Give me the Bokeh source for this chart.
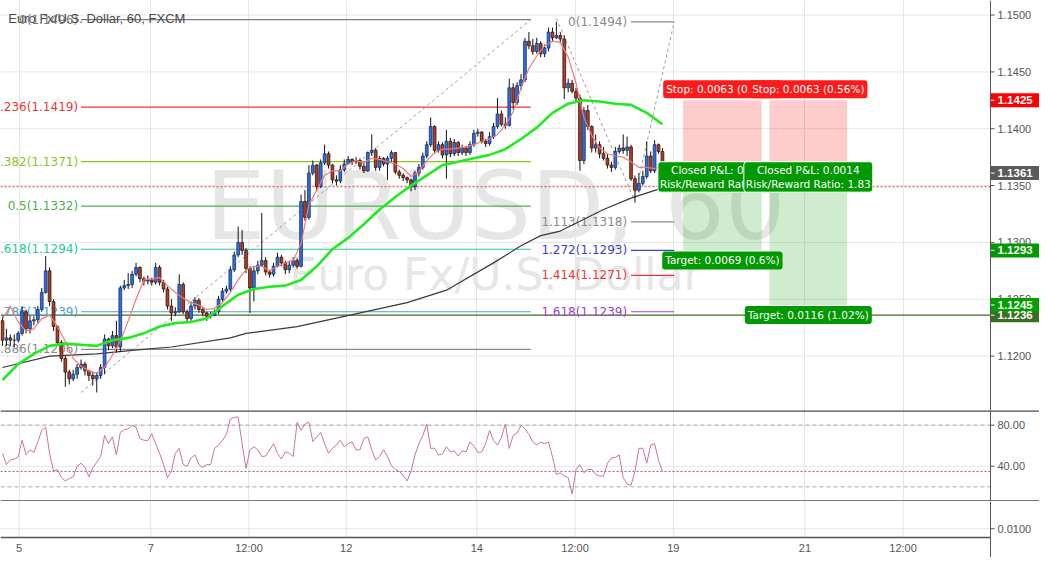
import numpy as np
from bokeh.plotting import figure
from bokeh.models import Range1d, FixedTicker, Label, Span, ColumnDataSource
from bokeh.layouts import column
from bokeh.embed import file_html
from bokeh.resources import INLINE
from bokeh.core.properties import value

# ---------------- data (hourly bars) ----------------
first_open = 1.1231
close = [1.1214, 1.1216, 1.1214, 1.1214, 1.1220, 1.1239, 1.1224, 1.1231, 1.1232, 1.1241,
         1.1256, 1.1275, 1.1248, 1.1226, 1.1212, 1.1198, 1.1186, 1.1180, 1.1184, 1.1190,
         1.1193, 1.1187, 1.1183, 1.1180, 1.1183, 1.1190, 1.1215, 1.1209, 1.1218, 1.1208,
         1.1260, 1.1262, 1.1263, 1.1272, 1.1278, 1.1268, 1.1266, 1.1267, 1.1265, 1.1278,
         1.1265, 1.1259, 1.1244, 1.1238, 1.1239, 1.1263, 1.1239, 1.1233, 1.1244, 1.1249,
         1.1241, 1.1238, 1.1235, 1.1236, 1.1239, 1.1250, 1.1257, 1.1259, 1.1276, 1.1289,
         1.1300, 1.1293, 1.1277, 1.1260, 1.1275, 1.1280, 1.1284, 1.1274, 1.1272, 1.1279,
         1.1287, 1.1282, 1.1276, 1.1280, 1.1284, 1.1279, 1.1336, 1.1322, 1.1361, 1.1368,
         1.1349, 1.1370, 1.1378, 1.1368, 1.1355, 1.1354, 1.1364, 1.1369, 1.1373, 1.1371,
         1.1372, 1.1367, 1.1363, 1.1379, 1.1381, 1.1366, 1.1374, 1.1369, 1.1374, 1.1379,
         1.1362, 1.1359, 1.1357, 1.1355, 1.1349, 1.1361, 1.1366, 1.1376, 1.1386, 1.1402,
         1.1381, 1.1386, 1.1377, 1.1389, 1.1378, 1.1388, 1.1379, 1.1383, 1.1379, 1.1386,
         1.1396, 1.1397, 1.1389, 1.1387, 1.1393, 1.1402, 1.1413, 1.1404, 1.1403, 1.1436,
         1.1423, 1.1438, 1.1443, 1.1477, 1.1473, 1.1468, 1.1475, 1.1466, 1.1471, 1.1485,
         1.1480, 1.1482, 1.1479, 1.1436, 1.1440, 1.1433, 1.1427, 1.1372, 1.1416, 1.1402,
         1.1383, 1.1386, 1.1378, 1.1374, 1.1368, 1.1366, 1.1380, 1.1383, 1.1381, 1.1384,
         1.1356, 1.1346, 1.1352, 1.1358, 1.1376, 1.1363, 1.1386, 1.1380, 1.1361]
high = [1.1235, 1.1224, 1.1219, 1.1219, 1.1222, 1.1244, 1.1241, 1.1235, 1.1235, 1.1244,
        1.1260, 1.1288, 1.1278, 1.1250, 1.1227, 1.1214, 1.1200, 1.1188, 1.1188, 1.1193,
        1.1197, 1.1195, 1.1188, 1.1186, 1.1186, 1.1193, 1.1219, 1.1216, 1.1222, 1.1231,
        1.1262, 1.1267, 1.1273, 1.1275, 1.1282, 1.1279, 1.1270, 1.1271, 1.1269, 1.1282,
        1.1280, 1.1267, 1.1261, 1.1250, 1.1243, 1.1272, 1.1265, 1.1241, 1.1248, 1.1252,
        1.1251, 1.1243, 1.1239, 1.1239, 1.1241, 1.1253, 1.1260, 1.1262, 1.1279, 1.1292,
        1.1314, 1.1311, 1.1295, 1.1279, 1.1279, 1.1284, 1.1326, 1.1287, 1.1276, 1.1282,
        1.1291, 1.1289, 1.1284, 1.1284, 1.1287, 1.1286, 1.1342, 1.1346, 1.1368, 1.1372,
        1.1369, 1.1373, 1.1386, 1.1380, 1.1369, 1.1359, 1.1368, 1.1373, 1.1376, 1.1374,
        1.1375, 1.1374, 1.1371, 1.1380, 1.1395, 1.1383, 1.1376, 1.1375, 1.1376, 1.1381,
        1.1379, 1.1364, 1.1361, 1.1358, 1.1356, 1.1363, 1.1369, 1.1379, 1.1389, 1.1410,
        1.1403, 1.1389, 1.1388, 1.1399, 1.1392, 1.1391, 1.1389, 1.1386, 1.1385, 1.1389,
        1.1399, 1.1400, 1.1398, 1.1391, 1.1397, 1.1405, 1.1427, 1.1416, 1.1410, 1.1444,
        1.1440, 1.1441, 1.1448, 1.1480, 1.1485, 1.1479, 1.1480, 1.1477, 1.1474, 1.1489,
        1.1489, 1.1494, 1.1485, 1.1482, 1.1444, 1.1443, 1.1436, 1.1430, 1.1419, 1.1421,
        1.1403, 1.1395, 1.1389, 1.1384, 1.1378, 1.1371, 1.1384, 1.1386, 1.1395, 1.1393,
        1.1386, 1.1359, 1.1361, 1.1363, 1.1389, 1.1380, 1.1390, 1.1387, 1.1383]
low = [1.1209, 1.1209, 1.1209, 1.1208, 1.1212, 1.1218, 1.1220, 1.1220, 1.1227, 1.1229,
       1.1239, 1.1255, 1.1244, 1.1222, 1.1209, 1.1195, 1.1173, 1.1175, 1.1178, 1.1180,
       1.1188, 1.1183, 1.1178, 1.1174, 1.1168, 1.1180, 1.1184, 1.1205, 1.1207, 1.1203,
       1.1204, 1.1258, 1.1259, 1.1260, 1.1270, 1.1265, 1.1262, 1.1263, 1.1262, 1.1263,
       1.1262, 1.1256, 1.1241, 1.1231, 1.1235, 1.1238, 1.1237, 1.1229, 1.1231, 1.1241,
       1.1238, 1.1235, 1.1231, 1.1233, 1.1235, 1.1237, 1.1248, 1.1255, 1.1257, 1.1274,
       1.1287, 1.1289, 1.1273, 1.1238, 1.1248, 1.1272, 1.1279, 1.1271, 1.1269, 1.1270,
       1.1278, 1.1279, 1.1272, 1.1273, 1.1278, 1.1277, 1.1278, 1.1319, 1.1320, 1.1359,
       1.1345, 1.1348, 1.1368, 1.1365, 1.1352, 1.1350, 1.1352, 1.1362, 1.1369, 1.1368,
       1.1369, 1.1364, 1.1361, 1.1362, 1.1376, 1.1363, 1.1363, 1.1367, 1.1355, 1.1371,
       1.1360, 1.1356, 1.1354, 1.1352, 1.1345, 1.1346, 1.1358, 1.1364, 1.1374, 1.1384,
       1.1378, 1.1379, 1.1374, 1.1356, 1.1375, 1.1376, 1.1376, 1.1377, 1.1376, 1.1377,
       1.1384, 1.1393, 1.1387, 1.1384, 1.1385, 1.1391, 1.1400, 1.1402, 1.1400, 1.1402,
       1.1417, 1.1421, 1.1434, 1.1441, 1.1470, 1.1465, 1.1466, 1.1463, 1.1463, 1.1468,
       1.1477, 1.1479, 1.1475, 1.1426, 1.1432, 1.1431, 1.1424, 1.1363, 1.1369, 1.1399,
       1.1379, 1.1379, 1.1374, 1.1372, 1.1365, 1.1362, 1.1364, 1.1378, 1.1378, 1.1376,
       1.1354, 1.1335, 1.1344, 1.1350, 1.1356, 1.1361, 1.1361, 1.1378, 1.1352]

rsi = [52.7, 41.6, 46.3, 47, 49, 65.4, 51.1, 55.9, 53.5, 63.8,
       74.9, 78, 52.7, 35.2, 36.8, 29, 25.7, 28, 29.8, 40,
       43, 39, 29.8, 38.4, 44, 49.5, 70, 62, 68.6, 51,
       73, 75.5, 76.5, 79.7, 78, 67, 65.4, 65, 71.7, 62,
       52.7, 41.6, 29, 35, 52.7, 57.5, 41.6, 40, 48, 51,
       41.6, 39, 41.6, 41.6, 57.5, 60.6, 65.4, 71, 86, 87.6,
       88, 62, 38, 56, 59, 56, 49.5, 50, 55.9, 62,
       52.7, 47, 54, 52.7, 49.5, 83, 75, 81, 83, 64,
       68.6, 73, 62, 52.7, 57.5, 60.6, 65.4, 59, 62, 63.8,
       56, 56, 67, 68.6, 56, 46, 49.5, 56, 49.5, 40.6,
       36.8, 35, 31, 25.7, 35, 51, 62, 70, 81, 57.5,
       57.5, 51, 52, 59, 54, 55, 50, 55, 54, 63.8,
       59.6, 53.5, 54, 62, 75, 65, 60.6, 68, 81, 57.5,
       70, 72.5, 79.7, 76.5, 71, 63.8, 60.6, 63.5, 62, 63.5,
       49.5, 32, 33.7, 30.5, 29, 13, 36.8, 41.6, 33.7, 36.8,
       36.8, 32, 30.5, 30.5, 43, 48, 48.7, 51, 29, 22.5,
       21.6, 35, 57.5, 57.5, 43, 60.6, 62, 46, 35]

# moving averages (bar index, price)
ma_fast_t = list(range(0, 169, 2))
ma_fast = [1.1233, 1.1244, 1.1230, 1.1222, 1.1224, 1.1233, 1.1236, 1.1226, 1.1213, 1.1198,
           1.1191, 1.1187, 1.1185, 1.1190, 1.1201, 1.1213, 1.1231, 1.1250, 1.1267, 1.1268,
           1.1269, 1.1262, 1.1256, 1.1251, 1.1247, 1.1245, 1.1241, 1.1242, 1.1247, 1.1256,
           1.1267, 1.1276, 1.1279, 1.1279, 1.1275, 1.1279, 1.1282, 1.1284, 1.1299, 1.1333,
           1.1346, 1.1359, 1.1363, 1.1363, 1.1369, 1.1372, 1.1370, 1.1374, 1.1373, 1.1371,
           1.1369, 1.1365, 1.1358, 1.1362, 1.1372, 1.1379, 1.1382, 1.1382, 1.1383, 1.1384,
           1.1386, 1.1389, 1.1391, 1.1395, 1.1403, 1.1415, 1.1436, 1.1453, 1.1464, 1.1473,
           1.1477, 1.1476, 1.1463, 1.1440, 1.1410, 1.1394, 1.1383, 1.1378, 1.1376, 1.1375,
           1.1371, 1.1366, 1.1366, 1.1365, 1.1367]
ma_mid_t = list(range(0, 169, 4))
ma_mid = [1.1179, 1.1193, 1.1202, 1.1209, 1.1211, 1.1210, 1.1209, 1.1214, 1.1216, 1.1220,
          1.1226, 1.1229, 1.1230, 1.1233, 1.1244, 1.1254, 1.1259, 1.1261, 1.1262, 1.1267,
          1.1279, 1.1294, 1.1304, 1.1316, 1.1329, 1.1340, 1.1350, 1.1359, 1.1368, 1.1371,
          1.1374, 1.1377, 1.1382, 1.1391, 1.1401, 1.1414, 1.1422, 1.1425, 1.1424, 1.1422,
          1.1421, 1.1414, 1.1404]
ma_slow_t = [0, 12, 24, 33, 43, 58, 62, 75, 87, 103, 113, 125, 132, 137, 142, 153, 160, 168]
ma_slow = [1.1190, 1.1200, 1.1202, 1.1205, 1.1208, 1.1216, 1.1220, 1.1226, 1.1235, 1.1247,
           1.1258, 1.1282, 1.1297, 1.1306, 1.1310, 1.1329, 1.1339, 1.1348]

tick_pos = [4.25, 37.75, 62.75, 87.5, 120.75, 145.75, 170.75, 204.25, 229.25]
tick_labels = ["5", "7", "12:00", "12", "14", "12:00", "19", "21", "12:00"]
price_ticks = [1.120, 1.125, 1.130, 1.135, 1.140, 1.145, 1.150]
rsi_ticks = [40, 80]
rsi_bands = [80, 20]
bottom_ticks = [0.01]

fib_ret_ratio = ["0", "0.236", "0.382", "0.5", "0.618", "0.786", "0.886"]
fib_ret_price = [1.1496, 1.1419, 1.1371, 1.1332, 1.1294, 1.1239, 1.1206]
fib_ret_t = [20, 134.5]
fib_ret_anchor_p = [1.1168, 1.1496]

fib_ext_ratio = ["0", "1.113", "1.272", "1.414", "1.618"]
fib_ext_price = [1.1494, 1.1318, 1.1293, 1.1271, 1.1239]
fib_ext_t = [160, 171]
fib_ext_anchor_t = [141, 160.75, 171]
fib_ext_anchor_p = [1.1497, 1.1338, 1.1494]

pos_left = [173.25, 195.25]
pos_right = [193.25, 215.0]
pos_entry = [1.1362, 1.1362]
pos_stop = [1.1425, 1.1425]
pos_target = [1.1293, 1.1245]
stop_text = ["Stop: 0.0063 (0.56%)", "Stop: 0.0063 (0.56%)"]
pnl_text = ["Closed P&L: 0.0014\nRisk/Reward Ratio: 1.83", "Closed P&L: 0.0014\nRisk/Reward Ratio: 1.83"]
target_text = ["Target: 0.0069 (0.6%)", "Target: 0.0116 (1.02%)"]

entry_level = 1.1349
green_level = 1.1236

# ---------------- styling constants ----------------
PLOT_W = 1039
PANE_W = 990                       # width of the chart area left of the price scale
X0, X_AXIS = -0.5, 251.5           # chart area in bar units
PPB = PANE_W / (X_AXIS - X0)       # pixels per bar
X1 = X0 + PLOT_W / PPB             # includes the price-scale strip
GRID = "#e6e6e6"
AXC = "#555555"
UP_FILL, UP_LINE = "#2f6fde", "#14306b"
DN_FILL, DN_LINE = "#a8402c", "#3b1109"
FIB_RET_COL = ["#7d7d7d", "#e53935", "#8fc31f", "#4caf50", "#26c6a0", "#4a9fd8", "#8a8a8a"]
FIB_EXT_COL = ["#8a8a8a", "#8a8a8a", "#3f3fd0", "#e53935", "#a040c8"]

x_range = Range1d(X0, X1)


def base_fig(h, yr, xgrid=True):
    f = figure(frame_width=PLOT_W, frame_height=h, x_range=x_range, y_range=yr,
               output_backend="svg", toolbar_location=None,
               min_border_left=0, min_border_top=0, min_border_bottom=0,
               min_border_right=0, outline_line_color=None,
               background_fill_color="white", border_fill_color="white")
    f.xgrid.ticker = FixedTicker(ticks=tick_pos)
    f.xgrid.grid_line_color = GRID if xgrid else None
    f.ygrid.visible = False
    f.yaxis.visible = False
    f.xaxis.visible = False
    return f


def price_scale(f, ticks, labels):
    # horizontal grid lines stop at the price scale
    f.segment(x0=[X0] * len(ticks), x1=[X_AXIS] * len(ticks), y0=ticks, y1=ticks,
              line_color=GRID, line_width=1, level="underlay")
    f.segment(x0=[X_AXIS] * len(ticks), x1=[X_AXIS + 4 / PPB] * len(ticks), y0=ticks, y1=ticks,
              line_color=AXC, line_width=1)
    f.text(x=[X_AXIS + 7 / PPB] * len(ticks), y=ticks, text=labels, text_color=AXC,
           text_align="left", text_baseline="middle", text_font=value("Liberation Sans"),
           text_font_size="11px")
    f.add_layout(Span(location=X_AXIS, dimension="height", line_color=AXC, line_width=1))


# ---------------- main price pane ----------------
p = base_fig(410, Range1d(1.115214, 1.151282))
price_scale(p, price_ticks, [f"{t:.4f}" for t in price_ticks])

# watermark
p.add_layout(Label(x=125.5, y=1.1332, text="EURUSD, 60", text_align="center",
                   text_baseline="alphabetic", text_font="DejaVu Sans", text_font_size="95px",
                   text_color="#e6e6e6", level="underlay"))
p.add_layout(Label(x=125.5, y=1.1272, text="Euro Fx/U.S. Dollar", text_align="center",
                   text_baseline="alphabetic", text_font="DejaVu Sans", text_font_size="44px",
                   text_color="#e6e6e6", level="underlay"))

# position tool boxes
p.quad(left=pos_left, right=pos_right, bottom=pos_entry, top=pos_stop,
       fill_color="#ff0000", fill_alpha=0.2, line_color=None)
p.quad(left=pos_left, right=pos_right, bottom=pos_target, top=pos_entry,
       fill_color="#009900", fill_alpha=0.19, line_color=None)

# horizontal lines
p.segment(x0=[X0], x1=[X_AXIS], y0=[entry_level], y1=[entry_level], line_color="#e53935",
          line_dash="2 2", line_width=1)
p.segment(x0=[X0], x1=[X_AXIS], y0=[green_level], y1=[green_level], line_color="#3a6e22",
          line_width=1.2)

# fib retracement
n_r = len(fib_ret_price)
p.segment(x0=[fib_ret_t[0]] * n_r, x1=[fib_ret_t[1]] * n_r, y0=fib_ret_price, y1=fib_ret_price,
          line_color=FIB_RET_COL, line_width=1.2)
p.line(fib_ret_t, fib_ret_anchor_p, line_color="#9a9a9a", line_dash="3 3", line_width=1)
p.text(x=[fib_ret_t[0] - 0.75] * n_r, y=fib_ret_price,
       text=[f"{r}({v:.4f})" for r, v in zip(fib_ret_ratio, fib_ret_price)],
       text_color=FIB_RET_COL, text_align="right", text_baseline="middle",
       text_font=value("DejaVu Sans"), text_font_size="12px")

# fib extension
n_e = len(fib_ext_price)
p.segment(x0=[fib_ext_t[0]] * n_e, x1=[fib_ext_t[1]] * n_e, y0=fib_ext_price, y1=fib_ext_price,
          line_color=FIB_EXT_COL, line_width=1.2)
p.line(fib_ext_anchor_t, fib_ext_anchor_p, line_color="#9a9a9a", line_dash="3 3", line_width=1)
p.text(x=[fib_ext_t[0] - 1.0] * n_e, y=fib_ext_price,
       text=[f"{r}({v:.4f})" for r, v in zip(fib_ext_ratio, fib_ext_price)],
       text_color=FIB_EXT_COL, text_align="right", text_baseline="middle",
       text_font=value("DejaVu Sans"), text_font_size="12px")

# slow MA under candles
p.line(ma_slow_t, ma_slow, line_color="#3a3a3a", line_width=1.2)

# candles
n = len(close)
bars = list(range(n))
opens = [first_open] + close[:-1]
up = [c >= o for o, c in zip(opens, close)]
src = ColumnDataSource(dict(
    x=bars, high=high, low=low,
    top=[max(o, c) for o, c in zip(opens, close)],
    bot=[min(o, c) for o, c in zip(opens, close)],
    fill=[UP_FILL if u else DN_FILL for u in up],
    line=[UP_LINE if u else DN_LINE for u in up],
))
p.segment(x0="x", x1="x", y0="low", y1="high", source=src, line_color="#111111", line_width=1)
p.vbar(x="x", top="top", bottom="bot", width=0.7, source=src,
       fill_color="fill", line_color="line", line_width=0.8)

# fast and mid MAs
p.line(ma_fast_t, ma_fast, line_color="#f07a7a", line_width=1.2)
p.line(ma_mid_t, ma_mid, line_color="#22ea22", line_width=2.6)

# title
p.add_layout(Label(x=1.5, y=1.1497, text="Euro Fx/U.S. Dollar, 60, FXCM", text_baseline="middle",
                   text_font="Liberation Sans", text_font_size="13px", text_color="#4a4a4a"))

# position tool labels
for i in range(2):
    cx = (pos_left[i] + pos_right[i]) / 2
    p.add_layout(Label(x=cx, y=pos_stop[i], y_offset=11, text=stop_text[i], text_align="center",
                       text_baseline="middle", text_color="white", text_font="DejaVu Sans",
                       text_font_size="10.5px", background_fill_color="#ff1a1a",
                       padding=3, border_radius=3))
for i in range(2):
    cx = (pos_left[i] + pos_right[i]) / 2
    p.add_layout(Label(x=cx, y=pos_entry[i], y_offset=-5, text=pnl_text[i], text_align="center",
                       text_baseline="middle", text_color="white", text_font="DejaVu Sans",
                       text_font_size="10.5px", background_fill_color="#009900",
                       padding=2, border_radius=3, border_line_color="white", border_line_width=1))
for i in range(2):
    cx = (pos_left[i] + pos_right[i]) / 2
    p.add_layout(Label(x=cx, y=pos_target[i], y_offset=-10, text=target_text[i], text_align="center",
                       text_baseline="middle", text_color="white", text_font="DejaVu Sans",
                       text_font_size="10.5px", background_fill_color="#009900",
                       padding=3, border_radius=3))

# price tags on the price scale
tag_price = [pos_stop[0], close[-1], pos_target[0], green_level, pos_target[1]]
tag_color = ["#ff0000", "#5a5a5a", "#009900", "#3a6e22", "#00a000"]
tag_x = X_AXIS + (X1 - X_AXIS) / 2
p.rect(x=[tag_x] * len(tag_price), y=tag_price, width=[PLOT_W - PANE_W] * len(tag_price),
       height=[14] * len(tag_price), width_units="screen", height_units="screen",
       fill_color=tag_color, line_color=None)
p.segment(x0=[X_AXIS] * len(tag_price), x1=[X_AXIS + 4 / PPB] * len(tag_price),
          y0=tag_price, y1=tag_price, line_color="white", line_width=1)
p.text(x=[X_AXIS + 7 / PPB] * len(tag_price), y=tag_price,
       text=[f"{t:.4f}" for t in tag_price], text_color="white", text_align="left",
       text_baseline="middle", text_font=value("Liberation Sans"), text_font_style="bold",
       text_font_size="11.5px")

# ---------------- RSI pane ----------------
r = base_fig(91, Range1d(5.7, 94.3))
price_scale(r, rsi_ticks, [f"{t:.2f}" for t in rsi_ticks])
r.segment(x0=[X0] * 2, x1=[X_AXIS] * 2, y0=rsi_bands, y1=rsi_bands, line_color="#aaaaaa",
          line_dash="4 3", line_width=1)
r.segment(x0=[X0], x1=[X_AXIS], y0=[rsi[-1]], y1=[rsi[-1]], line_color="#a0528c",
          line_dash="2 2", line_width=1)
r.line(bars, rsi, line_color="#c8739f", line_width=1)
r.add_layout(Span(location=94.3, dimension="width", line_color="#4d4d4d", line_width=2.5))
r.add_layout(Span(location=5.7, dimension="width", line_color="#4d4d4d", line_width=2.5))

# ---------------- empty bottom pane with the time scale below it ----------------
B_TOP = 0.0411
B_PX = B_TOP / 36                   # value per pixel in the bottom pane
b = base_fig(56, Range1d(-20 * B_PX, B_TOP), xgrid=False)
price_scale(b, bottom_ticks, [f"{t:.4f}" for t in bottom_ticks])
b.segment(x0=tick_pos, x1=tick_pos, y0=[0.0] * len(tick_pos), y1=[B_TOP] * len(tick_pos),
          line_color=GRID, line_width=1, level="underlay")
b.segment(x0=[X0], x1=[X_AXIS], y0=[0.0], y1=[0.0], line_color=AXC, line_width=1.5)
b.text(x=tick_pos, y=[-10 * B_PX] * len(tick_pos), text=tick_labels, text_color=AXC,
       text_align="center", text_baseline="middle", text_font=value("Liberation Sans"),
       text_font_size="11px")

layout = column(p, r, b, spacing=0)
open("out.html", "w").write(file_html(layout, INLINE))
